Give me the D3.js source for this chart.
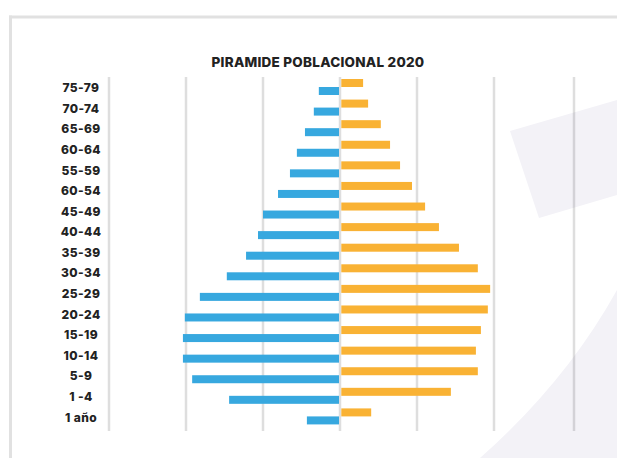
<!DOCTYPE html>
<html>
<head>
<meta charset="utf-8">
<title>Piramide poblacional 2020</title>
<script src="https://cdn.jsdelivr.net/npm/d3@7"></script>
<style>
  body { margin: 0; background: #fff; }
  text.age { font-family: Inter, "Open Sans", sans-serif; font-weight: 800; font-size: 12px; letter-spacing: 0.4px; fill: #222; }
  text.title { font-family: Inter, "Open Sans", sans-serif; font-weight: 800; font-size: 13.5px; letter-spacing: 0.25px; fill: #222; }
</style>
</head>
<body>
<svg id="chart" width="617" height="458"></svg>
<script>
// age groups, top to bottom (labels as printed)
var ages = ['75-79', '70-74', '65-69', '60-64', '55-59', '60-54', '45-49', '40-44', '35-39',
            '30-34', '25-29', '20-24', '15-19', '10-14', '5-9', '1 -4', '1 año'];
// % of population
var hombres = [0.55, 0.68, 0.91, 1.12, 1.30, 1.61, 2.00, 2.13, 2.44,
               2.94, 3.64, 4.03, 4.08, 4.08, 3.84, 2.88, 0.86];
var mujeres = [0.60, 0.73, 1.06, 1.30, 1.56, 1.87, 2.21, 2.57, 3.09,
               3.58, 3.90, 3.84, 3.66, 3.53, 3.58, 2.88, 0.81];
var gridValues = [-6, -4, -2, 0, 2, 4, 6];

var svg = d3.select('#chart');

// background decoration
svg.append('path')
  .attr('d', 'M510,131 L617,100 L617,195 L539,218 Z')
  .attr('fill', '#f3f2f7');
svg.append('path')
  .attr('d', 'M480,458 Q566,382 617,290 L617,458 Z')
  .attr('fill', '#f3f2f7');

// frame lines
svg.append('line').attr('x1', 9).attr('x2', 617).attr('y1', 17).attr('y2', 17)
  .attr('stroke', '#e1e1e1').attr('stroke-width', 3);
svg.append('line').attr('x1', 10.5).attr('x2', 10.5).attr('y1', 15.5).attr('y2', 458)
  .attr('stroke', '#e1e1e1').attr('stroke-width', 3);

var x = d3.scaleLinear().domain([-6, 6]).range([109, 571]);
var y = d3.scaleBand().domain(ages).range([79, 429]);

// grid (the outer right line sits a few px further out in the original)
svg.append('g').selectAll('line')
  .data(gridValues)
  .enter().append('line')
  .attr('x1', d => x(d) + (d == 6 ? 3 : 0)).attr('x2', d => x(d) + (d == 6 ? 3 : 0))
  .attr('y1', 77).attr('y2', 431)
  .attr('stroke', 'rgba(0,0,0,0.13)')
  .attr('stroke-width', 2.5);

var rows = svg.append('g').selectAll('g')
  .data(ages)
  .enter().append('g');

rows.append('rect')
  .attr('x', x(0) + 1.3)
  .attr('y', d => y(d))
  .attr('width', (d, i) => x(mujeres[i]) - x(0) - 1.3)
  .attr('height', 8)
  .attr('fill', '#f9b234');

rows.append('rect')
  .attr('x', (d, i) => x(-hombres[i]))
  .attr('y', d => y(d) + 8)
  .attr('width', (d, i) => x(0) - 1 - x(-hombres[i]))
  .attr('height', 8)
  .attr('fill', '#37a8df');

rows.append('text')
  .attr('class', 'age')
  .attr('x', 81)
  .attr('y', d => y(d) + 9)
  .attr('dy', '0.35em')
  .attr('text-anchor', 'middle')
  .text(d => d);

svg.append('text')
  .attr('class', 'title')
  .attr('x', 318)
  .attr('y', 67)
  .attr('text-anchor', 'middle')
  .text('PIRAMIDE POBLACIONAL 2020');
</script>
</body>
</html>
